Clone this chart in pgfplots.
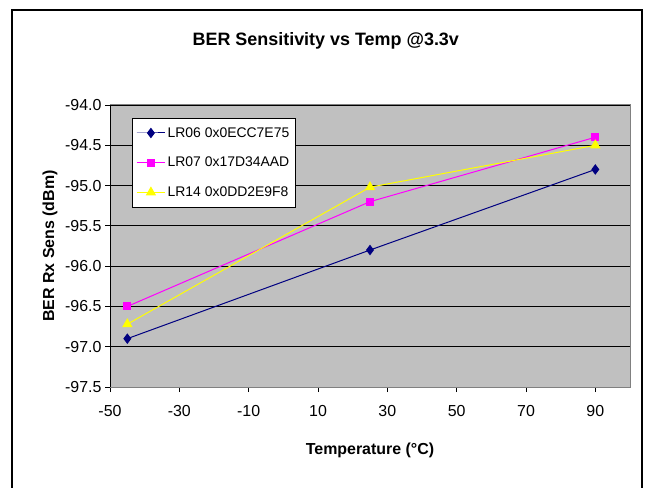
\documentclass[border=0pt]{standalone}
\usepackage{pgfplots}
\pgfplotsset{compat=1.18}
\usepackage{fontspec}
\setmainfont{Liberation Sans}
\definecolor{plotgray}{HTML}{C0C0C0}
\definecolor{navyc}{HTML}{000080}
\definecolor{magc}{HTML}{FF00FF}
\definecolor{yelc}{HTML}{FFFF00}
\definecolor{bordgray}{HTML}{808080}
\begin{document}
\begin{tikzpicture}
\useasboundingbox (0,0) rectangle (651bp,488bp);
\fill[white] (0,0) rectangle (651bp,488bp);
\draw[black, line width=1.2bp] (12bp,-5bp) -- (12bp,478bp) -- (642bp,478bp) -- (642bp,-5bp);
\begin{axis}[
  name=ax,
  at={(110bp,101bp)}, anchor=south west,
  scale only axis,
  width=520bp, height=282bp,
  xmin=-50, xmax=100,
  ymin=-97.5, ymax=-94,
  xtick={-50,-30,...,90},
  ytick={-97.5,-97,-96.5,-96,-95.5,-95,-94.5,-94},
  tick pos=left,
  tick align=outside,
  major tick length=5bp,
  tick style={black, line width=0.8bp},
  ymajorgrids,
  grid style={black, line width=0.8bp},
  axis background/.style={fill=plotgray},
  axis line style={draw=bordgray, line width=1bp},
  /pgf/number format/assume math mode=true,
  tick label style={font=\fontsize{16}{19}\selectfont},
  yticklabel style={/pgf/number format/.cd, fixed, fixed zerofill, precision=1},
  xticklabel style={yshift=-10bp},
  title={BER Sensitivity vs Temp @3.3v},
  title style={font=\bfseries\fontsize{18}{21}\selectfont, at={(axis description cs:0.415,1.206)}, anchor=center},
  xlabel={Temperature (°C)},
  xlabel style={font=\bfseries\fontsize{16}{19}\selectfont, at={(axis description cs:0.5,-0.223)}, anchor=center},
  ylabel={BER Rx Sens (dBm)},
  ylabel style={font=\bfseries\fontsize{16}{19}\selectfont, at={(axis description cs:-0.1154,0.5)}, anchor=center},
  legend style={at={(axis description cs:0.042,0.954)}, anchor=north west,
    fill=white, draw=black, line width=0.8bp,
    font=\fontsize{14}{17}\selectfont, row sep=14.5bp,
    inner xsep=4bp, inner ysep=7bp},
  legend cell align=left,
  legend image code/.code={\draw[mark repeat=2,mark phase=2] plot coordinates {(0cm,0cm) (0.5cm,0cm) (1cm,0cm)};},
]
\addplot[navyc, line width=1bp, mark=diamond*, mark size=4.5bp, mark options={fill=navyc, draw=navyc}] coordinates {(-45,-96.9) (25,-95.8) (90,-94.8)};
\addlegendentry{LR06 0x0ECC7E75}
\addplot[magc, line width=1bp, mark=square*, mark size=3.5bp, mark options={fill=magc, draw=magc}] coordinates {(-45,-96.5) (25,-95.2) (90,-94.4)};
\addlegendentry{LR07 0x17D34AAD}
\addplot[yelc, line width=1bp, mark=triangle*, mark size=5bp, mark options={fill=yelc, draw=yelc}] coordinates {(-45,-96.72) (25,-95.02) (90,-94.5)};
\addlegendentry{LR14 0x0DD2E9F8}
\draw[black, line width=1bp] (rel axis cs:0,1) -- (rel axis cs:0,0) -- (rel axis cs:1,0);
\end{axis}
\end{tikzpicture}
\end{document}
